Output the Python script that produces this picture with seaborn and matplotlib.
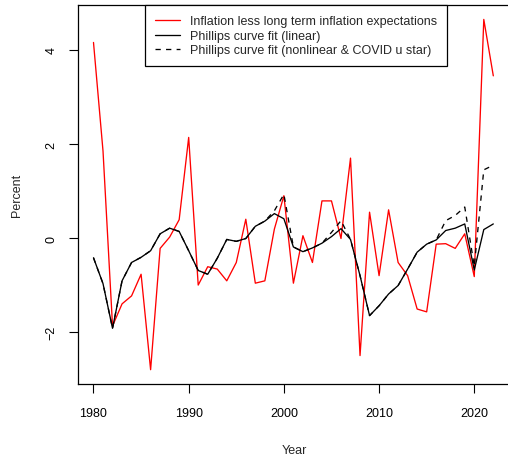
import matplotlib
matplotlib.use("Agg")
import matplotlib.pyplot as plt
import seaborn as sns

# Inflation gap vs Phillips curve fits, 1980-2022
years = list(range(1980, 2023))

inflation_gap = [4.16, 1.85, -1.87, -1.40, -1.23, -0.77, -2.80, -0.22, 0.02, 0.39,
                 2.14, -1.00, -0.61, -0.66, -0.91, -0.52, 0.40, -0.96, -0.91, 0.19,
                 0.90, -0.96, 0.05, -0.52, 0.79, 0.79, -0.01, 1.70, -2.50, 0.55,
                 -0.80, 0.60, -0.52, -0.80, -1.51, -1.57, -0.13, -0.12, -0.22, 0.09,
                 -0.82, 4.65, 3.45]

fit_linear = [-0.42, -0.97, -1.92, -0.91, -0.52, -0.41, -0.27, 0.09, 0.21, 0.14,
              -0.27, -0.69, -0.77, -0.43, -0.03, -0.07, -0.01, 0.25, 0.36, 0.52,
              0.41, -0.19, -0.29, -0.21, -0.11, 0.03, 0.20, -0.03, -0.80, -1.65,
              -1.44, -1.19, -1.01, -0.66, -0.30, -0.13, -0.04, 0.16, 0.21, 0.30,
              -0.68, 0.18, 0.30]

fit_nonlinear = [-0.42, -0.97, -1.92, -0.91, -0.52, -0.41, -0.27, 0.09, 0.21, 0.14,
                 -0.27, -0.69, -0.77, -0.43, -0.03, -0.07, -0.01, 0.25, 0.36, 0.58,
                 0.93, -0.19, -0.29, -0.21, -0.11, 0.12, 0.37, -0.03, -0.80, -1.65,
                 -1.44, -1.19, -1.01, -0.66, -0.30, -0.13, -0.04, 0.37, 0.48, 0.66,
                 -0.60, 1.45, 1.55]

x_ticks = [1980, 1990, 2000, 2010, 2020]
y_ticks = [-2, 0, 2, 4]

sns.set_style("ticks")
plt.rcParams['font.family'] = ['Liberation Sans', 'DejaVu Sans']

fig = plt.figure(figsize=(5.08, 4.56), dpi=100)
# axes placed in pixels to mimic the R base-graphics layout (right edge cut off)
ax = fig.add_axes([77.5 / 508, (456 - 384.7) / 456, 434 / 508, 378.3 / 456])

sns.lineplot(x=years, y=inflation_gap, ax=ax, color='red', linewidth=0.95,
             label='Inflation less long term inflation expectations')
sns.lineplot(x=years, y=fit_linear, ax=ax, color='black', linewidth=0.95,
             label='Phillips curve fit (linear)')
sns.lineplot(x=years, y=fit_nonlinear, ax=ax, color='black', linewidth=0.95,
             linestyle=(0, (4, 4)),
             label='Phillips curve fit (nonlinear & COVID u star)')

# R style 4% padding; x range stretched so the right border falls off the image
ax.set_xlim(1978.32, 1978.32 + 45.36 * 434 / 431.8)
ax.set_ylim(-3.098, 4.948)
ax.set_xticks(x_ticks)
ax.set_yticks(y_ticks)
ax.set_yticklabels(['\u22122', '0', '2', '4'], rotation=90, va='center')

for side in ['top', 'right', 'bottom', 'left']:
    ax.spines[side].set_visible(True)
    ax.spines[side].set_color('black')
    ax.spines[side].set_linewidth(0.9)

ax.tick_params(axis='both', direction='out', length=6.5, width=0.8,
               color='black', labelsize=9, labelcolor='black')
ax.tick_params(axis='x', pad=10)
ax.tick_params(axis='y', pad=8)

ax.set_xlabel('Year', fontsize=9, labelpad=18)
ax.set_ylabel('Percent', fontsize=9, labelpad=16)

leg = ax.legend(loc='upper left', bbox_to_anchor=(0.156, 1.0), borderaxespad=0,
                fontsize=9, frameon=True, fancybox=False, handlelength=1.95,
                handletextpad=0.85, labelspacing=0.2, borderpad=0.8)
leg.get_frame().set_edgecolor('black')
leg.get_frame().set_linewidth(0.9)
leg.get_frame().set_alpha(1)

fig.savefig('out.png', dpi=100)
